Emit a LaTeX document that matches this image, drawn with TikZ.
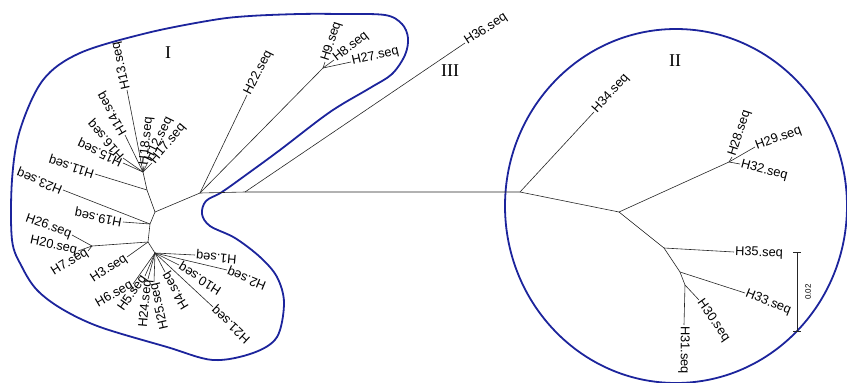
\documentclass[tikz,border=0pt]{standalone}
\usepackage{fontspec}
\setmainfont{Liberation Sans}
\newfontfamily\numfont{Liberation Serif}
\definecolor{outl}{RGB}{28,36,156}
\begin{document}
\begin{tikzpicture}[x=1pt,y=-1pt,
  br/.style={draw=black!85, line width=0.6pt},
  blob/.style={draw=outl, line width=1.8pt},
  labR/.style={font=\fontsize{12.8}{12.8}\selectfont, inner sep=1pt, anchor=west},
  labL/.style={font=\fontsize{12.8}{12.8}\selectfont, inner sep=1pt, anchor=east},
  roman/.style={font=\numfont\fontsize{18}{18}\selectfont, inner sep=0pt},
  scaletxt/.style={font=\fontsize{8}{8}\selectfont, inner sep=0pt}]
\useasboundingbox (0,0) rectangle (847,383);
% outlines
\draw[blob] plot[smooth cycle, tension=0.55] coordinates {
 (222,192) (250,172) (280,150) (330,112) (370,88) (392,74) (405,55) (408,38)
 (402,24) (385,15) (340,14) (300,14) (250,16) (213,20) (147,33) (80,53)
 (43,80) (20,130) (12,180) (12,240) (22,267) (37,290) (62,309) (100,327)
 (167,347) (213,360) (253,353) (277,337) (284,303) (277,277) (260,257)
 (235,238) (210,226) (202,214) (206,201)};
\draw[blob] (676,206) ellipse [x radius=171pt, y radius=177pt];
% internal nodes
\coordinate (A) at (200,193); \coordinate (N36) at (245,192); \coordinate (B) at (520,192);
\coordinate (C) at (323,68); \coordinate (D) at (155,212); \coordinate (E) at (147,190);
\coordinate (F) at (143,172); \coordinate (G2) at (150,224); \coordinate (P) at (148,242);
\coordinate (Q) at (92,246); \coordinate (R) at (155,253);
\coordinate (G) at (619,212); \coordinate (Hn) at (729,162); \coordinate (J) at (664,248);
\coordinate (K) at (680,272); \coordinate (L) at (685,285);
% tips
\coordinate (t36) at (465,43); \coordinate (t22) at (247,95);
\coordinate (t9) at (325,62); \coordinate (t8) at (334,60); \coordinate (t27) at (351,62);
\coordinate (t13) at (127,90); \coordinate (t14) at (125,135); \coordinate (t16) at (123,158);
\coordinate (t15) at (123,163); \coordinate (t18) at (144,166); \coordinate (t12) at (148,162);
\coordinate (t17) at (152,163); \coordinate (t11) at (95,174);
\coordinate (t23) at (63,190); \coordinate (t19) at (123,222);
\coordinate (t26) at (72,235); \coordinate (t20) at (78,251); \coordinate (t7) at (88,251);
\coordinate (t3) at (127,257);
\coordinate (t1) at (195,255); \coordinate (t2) at (227,270); \coordinate (t10) at (179,265);
\coordinate (t21) at (213,307); \coordinate (t4) at (165,272); \coordinate (t25) at (154,282);
\coordinate (t24) at (148,279); \coordinate (t5) at (145,276); \coordinate (t6) at (133,284);
\coordinate (t34) at (594,112); \coordinate (t28) at (732,157); \coordinate (t29) at (755,147);
\coordinate (t32) at (740,164); \coordinate (t35) at (734,252); \coordinate (t33) at (745,293);
\coordinate (t30) at (699,300); \coordinate (t31) at (684,325);
% branches
\draw[br] (A) -- (N36) -- (B);
\draw[br] (N36) -- (t36);
\draw[br] (A) -- (t22);
\draw[br] (A) -- (C);
\draw[br] (C) -- (t9); \draw[br] (C) -- (t8); \draw[br] (C) -- (t27);
\draw[br] (A) -- (D);
\draw[br] (D) -- (E) -- (F);
\draw[br] (F) -- (t13); \draw[br] (F) -- (t14); \draw[br] (F) -- (t16); \draw[br] (F) -- (t15);
\draw[br] (F) -- (t18); \draw[br] (F) -- (t12); \draw[br] (F) -- (t17);
\draw[br] (E) -- (t11);
\draw[br] (D) -- (G2) -- (P) -- (R);
\draw[br] (G2) -- (t23); \draw[br] (G2) -- (t19);
\draw[br] (P) -- (Q); \draw[br] (P) -- (t3);
\draw[br] (Q) -- (t26); \draw[br] (Q) -- (t20); \draw[br] (Q) -- (t7);
\draw[br] (R) -- (t1); \draw[br] (R) -- (t2); \draw[br] (R) -- (t10); \draw[br] (R) -- (t21);
\draw[br] (R) -- (t4); \draw[br] (R) -- (t25); \draw[br] (R) -- (t24); \draw[br] (R) -- (t5);
\draw[br] (R) -- (t6);
\draw[br] (B) -- (t34); \draw[br] (B) -- (G) -- (Hn);
\draw[br] (Hn) -- (t28); \draw[br] (Hn) -- (t29); \draw[br] (Hn) -- (t32);
\draw[br] (G) -- (J) -- (K) -- (L);
\draw[br] (J) -- (t35); \draw[br] (K) -- (t33); \draw[br] (L) -- (t30); \draw[br] (L) -- (t31);
% labels
\node[labR, rotate=33] (l36) at (t36) {H36.seq};
\node[labR, rotate=63] (l22) at (t22) {H22.seq};
\node[labR, rotate=72] (l9) at (t9) {H9.seq};
\node[labR, rotate=38] (l8) at (t8) {H8.seq};
\node[labR, rotate=13] (l27) at (t27) {H27.seq};
\node[labR, rotate=103] (l13) at (t13) {H13.seq};
\node[labR, rotate=120] (l14) at (t14) {H14.seq};
\node[labR, rotate=132] (l16) at (t16) {H16.seq};
\node[labR, rotate=155] (l15) at (t15) {H15.seq};
\node[labR, rotate=84] (l18) at (t18) {H18.seq};
\node[labR, rotate=64] (l12) at (t12) {H12.seq};
\node[labR, rotate=50] (l17) at (t17) {H17.seq};
\node[labR, rotate=162] (l11) at (t11) {H11.seq};
\node[labR, rotate=158] (l23) at (t23) {H23.seq};
\node[labR, rotate=169] (l19) at (t19) {H19.seq};
\node[labL, rotate=-20] (l26) at (t26) {H26.seq};
\node[labL, rotate=-12] (l20) at (t20) {H20.seq};
\node[labL, rotate=32] (l7) at (t7) {H7.seq};
\node[labL, rotate=33] (l3) at (t3) {H3.seq};
\node[labL, rotate=30] (l6) at (t6) {H6.seq};
\node[labL, rotate=55] (l5) at (t5) {H5.seq};
\node[labL, rotate=85] (l24) at (t24) {H24.seq};
\node[labL, rotate=103] (l25) at (t25) {H25.seq};
\node[labL, rotate=121] (l4) at (t4) {H4.seq};
\node[labL, rotate=148] (l10) at (t10) {H10.seq};
\node[labL, rotate=137] (l21) at (t21) {H21.seq};
\node[labL, rotate=158] (l2) at (t2) {H2.seq};
\node[labL, rotate=175] (l1) at (t1) {H1.seq};
\node[labR, rotate=48] (l34) at (t34) {H34.seq};
\node[labR, rotate=72] (l28) at (t28) {H28.seq};
\node[labR, rotate=20] (l29) at (t29) {H29.seq};
\node[labR, rotate=-15] (l32) at (t32) {H32.seq};
\node[labR, rotate=-2] (l35) at (t35) {H35.seq};
\node[labR, rotate=-22] (l33) at (t33) {H33.seq};
\node[labR, rotate=-55] (l30) at (t30) {H30.seq};
\node[labR, rotate=-90] (l31) at (t31) {H31.seq};
% roman numerals
\node[roman] (rI) at (168,53) {I};
\node[roman] (rII) at (675,61) {II};
\node[roman] (rIII) at (450,71) {III};
% scale bar
\coordinate (sb1) at (797,252); \coordinate (sb2) at (797,331);
\draw[br] (sb1) -- (sb2);
\draw[br] ([xshift=-4pt]sb1) -- ([xshift=4pt]sb1);
\draw[br] ([xshift=-4pt]sb2) -- ([xshift=4pt]sb2);
\node[scaletxt, rotate=90] (sbl) at (808,292) {0.02};
\end{tikzpicture}
\end{document}
